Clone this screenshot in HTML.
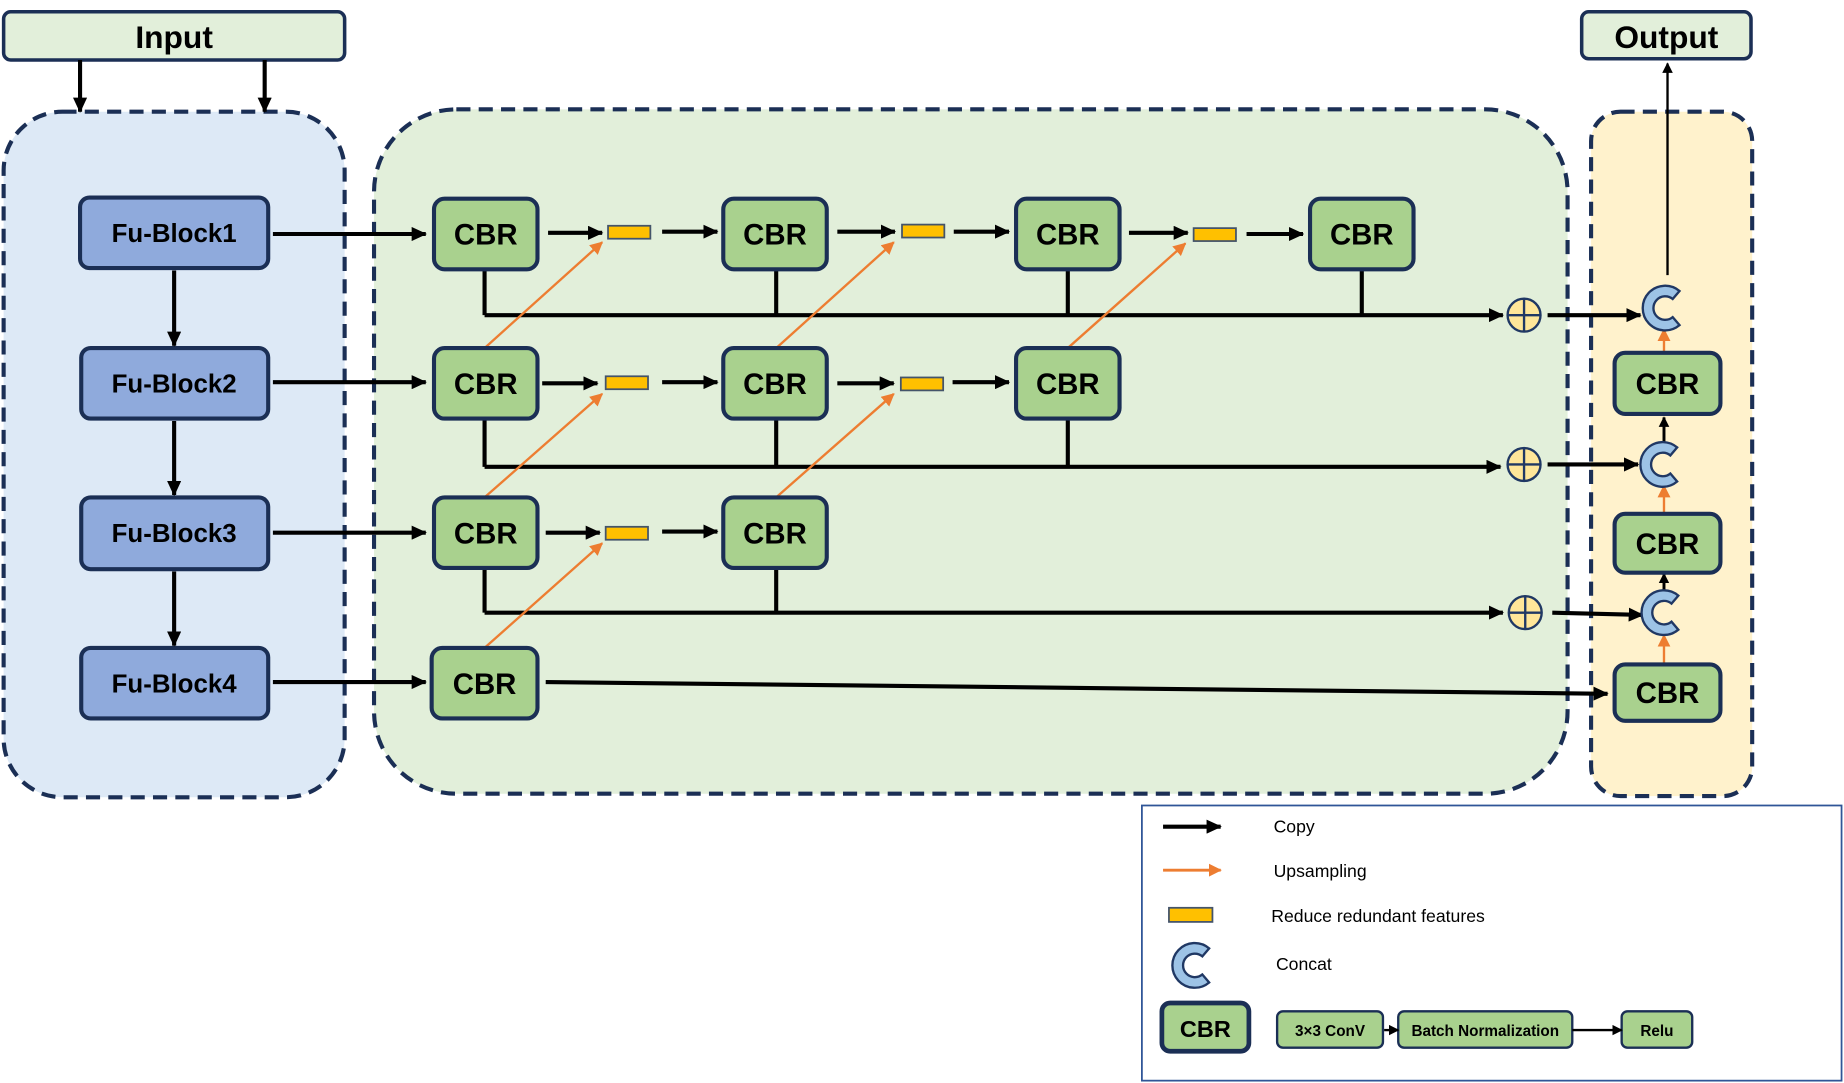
<!DOCTYPE html>
<html><head><meta charset="utf-8"><style>
html,body{margin:0;padding:0;background:#fff;}
svg{display:block;}
text{font-family:"Liberation Sans",sans-serif;}
</style></head><body>
<svg width="1844" height="1083" viewBox="0 0 1568 921" xmlns="http://www.w3.org/2000/svg">
<defs>
<marker id="ab" markerWidth="13" markerHeight="12" refX="12" refY="6" orient="auto" markerUnits="userSpaceOnUse"><path d="M0,0 L13,6 L0,12 Z" fill="#000"/></marker>
<marker id="as" markerWidth="9" markerHeight="9" refX="8" refY="4.5" orient="auto" markerUnits="userSpaceOnUse"><path d="M0,0 L9,4.5 L0,9 Z" fill="#000"/></marker>
<marker id="ao" markerWidth="11" markerHeight="11" refX="10" refY="5.5" orient="auto" markerUnits="userSpaceOnUse"><path d="M0,0 L11,5.5 L0,11 Z" fill="#ed7d31"/></marker>
<g id="c"><path d="M12.2,-14.5 A19,19 0 1,0 12.2,14.5 L6.4,7.7 A10,10 0 1,1 6.4,-7.7 Z" fill="#9dc3e6" stroke="#203864" stroke-width="2"/></g>
<g id="plus"><circle r="14" fill="#ffe699" stroke="#203864" stroke-width="2"/><line x1="-14" y1="0" x2="14" y2="0" stroke="#203864" stroke-width="2"/><line x1="0" y1="-14" x2="0" y2="14" stroke="#203864" stroke-width="2"/></g>
</defs>

<rect x="3" y="95" width="290" height="583" rx="50" fill="#dde9f6" stroke="#1b2f55" stroke-width="3.5" stroke-dasharray="12,7"/>
<rect x="318" y="93" width="1015" height="582" rx="70" fill="#e2efda" stroke="#1b2f55" stroke-width="3.5" stroke-dasharray="12,7"/>
<rect x="1353" y="95" width="137" height="582" rx="25" fill="#fff2cc" stroke="#1b2f55" stroke-width="3.5" stroke-dasharray="12,7"/>

<rect x="3" y="10" width="290" height="41" rx="6" fill="#e2efda" stroke="#1b2f55" stroke-width="3"/>
<text x="148" y="41" font-size="27" font-weight="bold" text-anchor="middle">Input</text>
<rect x="1345" y="10" width="144" height="40" rx="6" fill="#e2efda" stroke="#1b2f55" stroke-width="3"/>
<text x="1417" y="41" font-size="27" font-weight="bold" text-anchor="middle">Output</text>
<g stroke="#000" stroke-width="3.5" marker-end="url(#ab)">
<line x1="68" y1="51" x2="68" y2="95"/><line x1="225" y1="51" x2="225" y2="95"/>
<line x1="1418" y1="234" x2="1418" y2="54" stroke-width="2" marker-end="url(#as)"/>
</g>

<g fill="#8faadc" stroke="#1b2f55" stroke-width="3.5">
<rect x="68" y="168" width="160" height="60" rx="8"/>
<rect x="69" y="296" width="159" height="60" rx="8"/>
<rect x="69" y="423" width="159" height="61" rx="8"/>
<rect x="69" y="551" width="159" height="60" rx="8"/>
</g>
<g font-size="22" font-weight="bold" text-anchor="middle">
<text x="148" y="206">Fu-Block1</text><text x="148" y="334">Fu-Block2</text>
<text x="148" y="461">Fu-Block3</text><text x="148" y="589">Fu-Block4</text>
</g>
<g stroke="#000" stroke-width="3.5" marker-end="url(#ab)">
<line x1="148" y1="230" x2="148" y2="294"/><line x1="148" y1="358" x2="148" y2="421"/><line x1="148" y1="486" x2="148" y2="549"/>
<line x1="232" y1="199" x2="362" y2="199"/><line x1="232" y1="325" x2="362" y2="325"/>
<line x1="232" y1="453" x2="362" y2="453"/><line x1="232" y1="580" x2="362" y2="580"/>
</g>

<g stroke="#000" stroke-width="3.5" fill="none">
<line x1="412" y1="229" x2="412" y2="268"/><line x1="660" y1="229" x2="660" y2="268"/><line x1="908" y1="229" x2="908" y2="268"/><line x1="1158" y1="229" x2="1158" y2="268"/>
<line x1="412" y1="268" x2="1278" y2="268" marker-end="url(#ab)"/>
<line x1="412" y1="356" x2="412" y2="397"/><line x1="660" y1="356" x2="660" y2="397"/><line x1="908" y1="356" x2="908" y2="397"/>
<line x1="412" y1="397" x2="1276" y2="397" marker-end="url(#ab)"/>
<line x1="412" y1="483" x2="412" y2="521"/><line x1="660" y1="483" x2="660" y2="521"/>
<line x1="412" y1="521" x2="1278" y2="521" marker-end="url(#ab)"/>
<line x1="464" y1="580" x2="1367" y2="590" marker-end="url(#ab)"/>
<line x1="1316" y1="268" x2="1395" y2="268" marker-end="url(#ab)"/>
<line x1="1316" y1="395" x2="1393" y2="395" marker-end="url(#ab)"/>
<line x1="1320" y1="521" x2="1397" y2="523" marker-end="url(#ab)"/>
<line x1="466" y1="198" x2="512" y2="198" marker-end="url(#ab)"/><line x1="563" y1="197" x2="610" y2="197" marker-end="url(#ab)"/>
<line x1="712" y1="197" x2="761" y2="197" marker-end="url(#ab)"/><line x1="811" y1="197" x2="858" y2="197" marker-end="url(#ab)"/>
<line x1="960" y1="198" x2="1010" y2="198" marker-end="url(#ab)"/><line x1="1060" y1="199" x2="1108" y2="199" marker-end="url(#ab)"/>
<line x1="461" y1="326" x2="508" y2="326" marker-end="url(#ab)"/><line x1="563" y1="325" x2="610" y2="325" marker-end="url(#ab)"/>
<line x1="712" y1="326" x2="760" y2="326" marker-end="url(#ab)"/><line x1="810" y1="325" x2="858" y2="325" marker-end="url(#ab)"/>
<line x1="464" y1="453" x2="510" y2="453" marker-end="url(#ab)"/><line x1="563" y1="452" x2="610" y2="452" marker-end="url(#ab)"/>
<line x1="1415" y1="376" x2="1415" y2="355" stroke-width="2.5" marker-end="url(#as)"/>
<line x1="1415" y1="503" x2="1415" y2="488" stroke-width="2.5" marker-end="url(#as)"/>
</g>

<g stroke="#ed7d31" stroke-width="2" marker-end="url(#ao)">
<line x1="412" y1="296" x2="512" y2="206"/><line x1="660" y1="296" x2="760" y2="206"/><line x1="908" y1="296" x2="1008" y2="207"/>
<line x1="412" y1="423" x2="512" y2="335"/><line x1="660" y1="423" x2="760" y2="335"/>
<line x1="412" y1="551" x2="512" y2="462"/>
<line x1="1415" y1="300" x2="1415" y2="280"/><line x1="1415" y1="437" x2="1415" y2="413"/><line x1="1415" y1="565" x2="1415" y2="540"/>
</g>

<g fill="#ffc000" stroke="#44546a" stroke-width="1.5">
<rect x="517" y="192" width="36" height="11"/><rect x="767" y="191" width="36" height="11"/><rect x="1015" y="194" width="36" height="11"/>
<rect x="515" y="320" width="36" height="11"/><rect x="766" y="321" width="36" height="11"/>
<rect x="515" y="448" width="36" height="11"/>
</g>

<g fill="#a9d18e" stroke="#1b2f55" stroke-width="3.5">
<rect x="369" y="169" width="88" height="60" rx="9"/><rect x="615" y="169" width="88" height="60" rx="9"/>
<rect x="864" y="169" width="88" height="60" rx="9"/><rect x="1114" y="169" width="88" height="60" rx="9"/>
<rect x="369" y="296" width="88" height="60" rx="9"/><rect x="615" y="296" width="88" height="60" rx="9"/>
<rect x="864" y="296" width="88" height="60" rx="9"/>
<rect x="369" y="423" width="88" height="60" rx="9"/><rect x="615" y="423" width="88" height="60" rx="9"/>
<rect x="367" y="551" width="90" height="60" rx="9"/>
<rect x="1373" y="300" width="90" height="52" rx="9"/><rect x="1373" y="437" width="90" height="50" rx="9"/>
<rect x="1373" y="565" width="90" height="48" rx="9"/>
</g>
<g font-size="25" font-weight="bold" text-anchor="middle">
<text x="413" y="208">CBR</text><text x="659" y="208">CBR</text><text x="908" y="208">CBR</text><text x="1158" y="208">CBR</text>
<text x="413" y="335">CBR</text><text x="659" y="335">CBR</text><text x="908" y="335">CBR</text>
<text x="413" y="462">CBR</text><text x="659" y="462">CBR</text>
<text x="412" y="590">CBR</text>
<text x="1418" y="335">CBR</text><text x="1418" y="471">CBR</text><text x="1418" y="598">CBR</text>
</g>

<use href="#plus" x="1296" y="268"/><use href="#plus" x="1296" y="395"/><use href="#plus" x="1297" y="521"/>
<use href="#c" x="1416" y="262"/><use href="#c" x="1414" y="395"/><use href="#c" x="1415" y="521"/>

<rect x="971" y="685" width="595" height="234" fill="#fff" stroke="#2f5597" stroke-width="1.5"/>
<line x1="989" y1="703" x2="1038" y2="703" stroke="#000" stroke-width="3.5" marker-end="url(#ab)"/>
<line x1="989" y1="740" x2="1038" y2="740" stroke="#ed7d31" stroke-width="2.5" marker-end="url(#ao)"/>
<rect x="994" y="772" width="37" height="12" fill="#ffc000" stroke="#44546a" stroke-width="1.5"/>
<use href="#c" x="1016" y="821"/>
<g font-size="15">
<text x="1083" y="708">Copy</text><text x="1083" y="746">Upsampling</text>
<text x="1081" y="784">Reduce redundant features</text><text x="1085" y="825">Concat</text>
</g>
<rect x="988" y="853" width="74" height="41" rx="7" fill="#a9d18e" stroke="#1b2f55" stroke-width="4"/>
<text x="1025" y="882" font-size="20" font-weight="bold" text-anchor="middle">CBR</text>
<g fill="#a9d18e" stroke="#1b2f55" stroke-width="2">
<rect x="1086" y="860" width="90" height="31" rx="5"/><rect x="1189" y="860" width="148" height="31" rx="5"/><rect x="1379" y="860" width="60" height="31" rx="5"/>
</g>
<line x1="1177" y1="876" x2="1189" y2="876" stroke="#000" stroke-width="2" marker-end="url(#as)"/>
<line x1="1337" y1="876" x2="1379" y2="876" stroke="#000" stroke-width="2" marker-end="url(#as)"/>
<g font-size="13" font-weight="bold" text-anchor="middle">
<text x="1131" y="881">3×3 ConV</text><text x="1263" y="881">Batch Normalization</text><text x="1409" y="881">Relu</text>
</g>
</svg>
</body></html>
